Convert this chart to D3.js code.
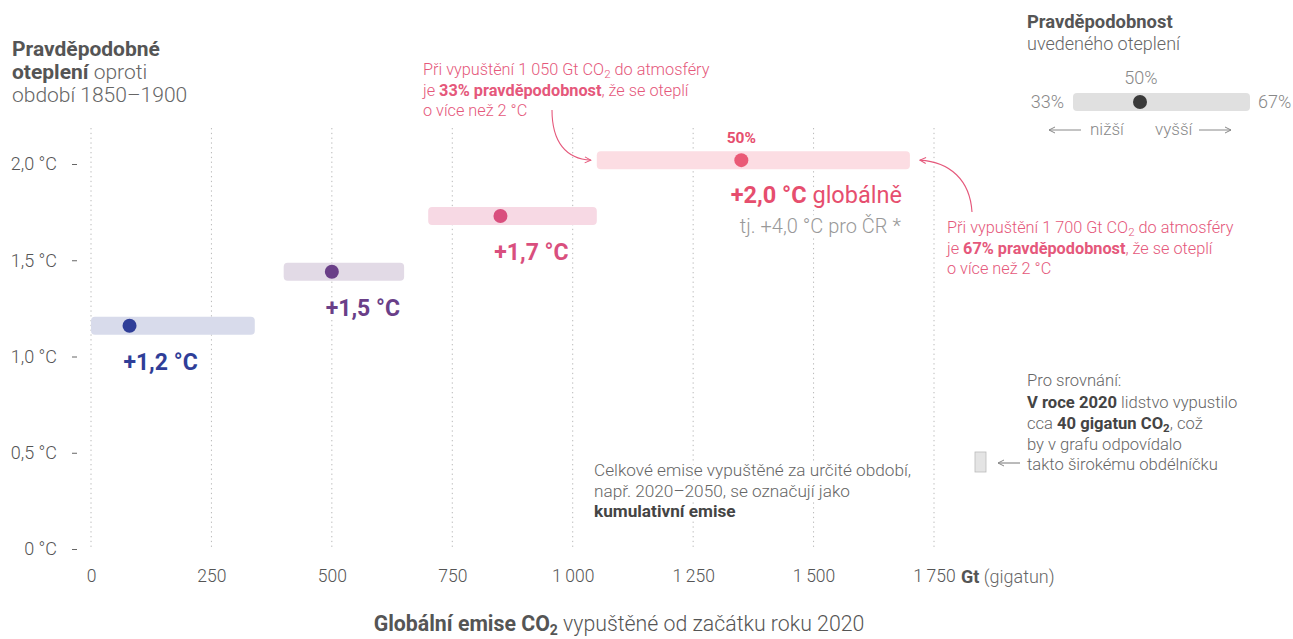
<!DOCTYPE html>
<html>
<head>
<meta charset="utf-8">
<script src="https://cdn.jsdelivr.net/npm/d3@7"></script>
<style>
  body { margin: 0; background: #fff; }
  svg { font-family: Roboto, "Noto Sans", sans-serif; font-weight: 300; }
  .halo { stroke: #fff; stroke-width: 7px; stroke-linejoin: round; paint-order: stroke; }
</style>
</head>
<body>
<script>
// data
const levels = ["+1,2 °C", "+1,5 °C", "+1,7 °C", "+2,0 °C"];
const warming = [1.16, 1.44, 1.73, 2.02];
const budgetLow = [0, 400, 700, 1050];   // 67 % bound
const budgetMid = [80, 500, 850, 1350];  // 50 %
const budgetHigh = [340, 650, 1050, 1700]; // 33 % bound
const xTicks = [0, 250, 500, 750, 1000, 1250, 1500, 1750];
const yTicks = [0, 0.5, 1, 1.5, 2];

const barFill = ["#d8dbeb", "#e2dae6", "#f7d9e4", "#fcdde3"];
const dotFill = ["#2f3e98", "#6a3f88", "#d94f7e", "#ea5a76"];
const pink = "#e5587b";

const width = 1293, height = 639;
const svg = d3.select("body").append("svg")
  .attr("width", width).attr("height", height);

const defs = svg.append("defs");
function head(id, col) {
  defs.append("marker")
    .attr("id", id).attr("viewBox", "0 0 8 8")
    .attr("refX", 7).attr("refY", 4)
    .attr("markerWidth", 8).attr("markerHeight", 8)
    .attr("markerUnits", "userSpaceOnUse")
    .attr("orient", "auto")
    .append("path").attr("d", "M1,1 L7,4 L1,7")
    .attr("fill", "none").attr("stroke", col).attr("stroke-width", 1);
}
head("head", pink);
head("headGray", "#888");

const x = d3.scaleLinear().domain([0, 1750]).range([91, 934]);
const y = d3.scaleLinear().domain([0, 2]).range([549, 164]);

const loc = d3.formatLocale({ decimal: ",", thousands: "\u2009", grouping: [3], currency: ["", ""] });
const fx = loc.format(",d");
const fy = v => v === 0 ? "0 °C" : loc.format(".1f")(v) + " °C";

// vertical dotted grid
svg.append("g").selectAll("line").data(xTicks).join("line")
  .attr("x1", d => x(d)).attr("x2", d => x(d))
  .attr("y1", 128).attr("y2", 550)
  .attr("stroke", "#b8b8b8").attr("stroke-dasharray", "1.3,3.5");

// y axis
const ya = svg.append("g").attr("transform", "translate(77,0)")
  .call(d3.axisLeft(y).tickValues(yTicks).tickFormat(fy).tickSize(5).tickPadding(15));
ya.select(".domain").remove();
ya.selectAll("line").attr("stroke", "#666");
ya.selectAll("text").attr("font-size", 18).attr("fill", "#555")
  .attr("font-family", "Roboto").attr("font-weight", 300);

// x axis
const xa = svg.append("g").attr("transform", "translate(0,562)")
  .call(d3.axisBottom(x).tickValues(xTicks).tickFormat(fx).tickSize(0).tickPadding(8));
xa.select(".domain").remove();
xa.selectAll("text").attr("font-size", 17.5).attr("fill", "#555")
  .attr("font-family", "Roboto").attr("font-weight", 300);

const unit = svg.append("text").attr("x", 961).attr("y", 583)
  .attr("font-size", 18).attr("fill", "#555");
unit.append("tspan").attr("font-weight", "bold").text("Gt");
unit.append("tspan").attr("fill", "#666").text(" (gigatun)");

// x title
const xt = svg.append("text").attr("x", 619).attr("y", 631)
  .attr("text-anchor", "middle").attr("font-size", 21.3).attr("fill", "#555");
xt.append("tspan").attr("font-weight", "bold").text("Globální emise CO");
xt.append("tspan").attr("font-weight", "bold").attr("font-size", 14).attr("dy", 4).text("2");
xt.append("tspan").attr("dy", -4).attr("fill", "#555").text(" vypuštěné od začátku roku 2020");

// y title
const yt = svg.append("g").attr("font-size", 21).attr("fill", "#666");
yt.append("text").attr("x", 12).attr("y", 56).attr("font-weight", "bold").attr("fill", "#555").text("Pravděpodobné");
const yt2 = yt.append("text").attr("x", 12).attr("y", 79);
yt2.append("tspan").attr("font-weight", "bold").attr("fill", "#555").text("oteplení");
yt2.append("tspan").text(" oproti");
yt.append("text").attr("x", 12).attr("y", 102).text("období 1850–1900");

// bars
const idx = d3.range(levels.length);
svg.append("g").selectAll("rect").data(idx).join("rect")
  .attr("x", i => x(budgetLow[i]))
  .attr("width", i => x(budgetHigh[i]) - x(budgetLow[i]))
  .attr("y", i => y(warming[i]) - 9).attr("height", 18)
  .attr("rx", 4).attr("fill", i => barFill[i]);

svg.append("g").selectAll("circle").data(idx).join("circle")
  .attr("cx", i => x(budgetMid[i])).attr("cy", i => y(warming[i]))
  .attr("r", 7).attr("fill", i => dotFill[i]);

// level labels
svg.append("g").selectAll("text").data(idx.slice(0, 3)).join("text")
  .attr("class", "halo")
  .attr("x", i => x(budgetMid[i]) + 31).attr("y", i => y(warming[i]) + 44)
  .attr("text-anchor", "middle").attr("font-size", 23).attr("font-weight", "bold")
  .attr("fill", i => dotFill[i]).text(i => levels[i]);

const l4 = svg.append("text").attr("class", "halo")
  .attr("x", x(budgetHigh[3]) - 8).attr("y", y(warming[3]) + 43)
  .attr("text-anchor", "end").attr("font-size", 23.5).attr("fill", "#e64e6e");
l4.append("tspan").attr("font-weight", "bold").text(levels[3]);
l4.append("tspan").attr("font-weight", 400).text(" globálně");
svg.append("text").attr("class", "halo")
  .attr("x", x(budgetHigh[3]) - 9).attr("y", y(warming[3]) + 73)
  .attr("text-anchor", "end").attr("font-size", 20).attr("fill", "#999")
  .text("tj. +4,0 °C pro ČR *");
svg.append("text").attr("x", x(budgetMid[3])).attr("y", y(warming[3]) - 17)
  .attr("text-anchor", "middle").attr("font-size", 15.5).attr("font-weight", "bold")
  .attr("fill", "#e64e6e").text("50%");

// pink annotations
function note(x0, y0, num, pct) {
  const g = svg.append("g").attr("font-size", 16.3).attr("fill", pink);
  const t1 = g.append("text").attr("x", x0).attr("y", y0);
  t1.append("tspan").text("Při vypuštění " + num + " Gt CO");
  t1.append("tspan").attr("font-size", 11.5).attr("dy", 3).text("2");
  t1.append("tspan").attr("dy", -3).text(" do atmosféry");
  const t2 = g.append("text").attr("x", x0).attr("y", y0 + 20.5);
  t2.append("tspan").text("je ");
  t2.append("tspan").attr("font-weight", "bold").text(pct + " pravděpodobnost");
  t2.append("tspan").text(", že se oteplí");
  g.append("text").attr("x", x0).attr("y", y0 + 41).text("o více než 2 °C");
}
note(423, 75, "1 050", "33%");
note(947, 233, "1 700", "67%");

svg.append("path")
  .attr("d", `M552,110 C552,142 566,159 ${x(budgetLow[3]) - 6},${y(warming[3])}`)
  .attr("fill", "none").attr("stroke", pink).attr("stroke-width", 1.1)
  .attr("marker-end", "url(#head)");
svg.append("path")
  .attr("d", `M972,212 C970,180 950,162 ${x(budgetHigh[3]) + 10},${y(warming[3])}`)
  .attr("fill", "none").attr("stroke", pink).attr("stroke-width", 1.1)
  .attr("marker-end", "url(#head)");

// cumulative note
const cn = svg.append("g").attr("font-size", 17.2).attr("fill", "#666").attr("class", "halo");
cn.append("text").attr("x", 594).attr("y", 476).text("Celkové emise vypuštěné za určité období,");
cn.append("text").attr("x", 594).attr("y", 497).text("např. 2020–2050, se označují jako");
cn.append("text").attr("x", 594).attr("y", 517).attr("font-weight", "bold").attr("fill", "#444").text("kumulativní emise");

// comparison note
const cmp = svg.append("g").attr("font-size", 16.6).attr("fill", "#666");
cmp.append("text").attr("x", 1027).attr("y", 386).text("Pro srovnání:");
const c2 = cmp.append("text").attr("x", 1027).attr("y", 408);
c2.append("tspan").attr("font-weight", "bold").attr("fill", "#444").text("V roce 2020");
c2.append("tspan").text(" lidstvo vypustilo");
const c3 = cmp.append("text").attr("x", 1027).attr("y", 429);
c3.append("tspan").text("cca ");
c3.append("tspan").attr("font-weight", "bold").attr("fill", "#444").text("40 gigatun CO");
c3.append("tspan").attr("font-weight", "bold").attr("fill", "#444").attr("font-size", 11.5).attr("dy", 3).text("2");
c3.append("tspan").attr("dy", -3).text(", což");
cmp.append("text").attr("x", 1027).attr("y", 450).text("by v grafu odpovídalo");
cmp.append("text").attr("x", 1027).attr("y", 470).text("takto širokému obdélníčku");
svg.append("line").attr("x1", 1020).attr("x2", 998).attr("y1", 463).attr("y2", 463)
  .attr("stroke", "#777").attr("stroke-width", 1).attr("marker-end", "url(#headGray)");
svg.append("rect").attr("x", 975).attr("y", 452).attr("width", 11).attr("height", 20)
  .attr("fill", "#e4e4e4").attr("stroke", "#bbb").attr("stroke-width", 0.8);

// probability legend
const lg = svg.append("g").attr("font-size", 18).attr("fill", "#888");
lg.append("text").attr("x", 1027).attr("y", 28).attr("font-weight", "bold").attr("fill", "#555").attr("font-size", 18.4).text("Pravděpodobnost");
lg.append("text").attr("x", 1027).attr("y", 50).attr("fill", "#666").text("uvedeného oteplení");
lg.append("rect").attr("x", 1073).attr("y", 93).attr("width", 177).attr("height", 18)
  .attr("rx", 4).attr("fill", "#e0e0e0");
lg.append("circle").attr("cx", 1140).attr("cy", 102).attr("r", 7).attr("fill", "#3a3a3a");
lg.append("text").attr("x", 1141).attr("y", 84).attr("text-anchor", "middle").text("50%");
lg.append("text").attr("x", 1064).attr("y", 108).attr("text-anchor", "end").text("33%");
lg.append("text").attr("x", 1258).attr("y", 108).text("67%");
lg.append("text").attr("x", 1090).attr("y", 135).attr("font-size", 17).text("nižší");
lg.append("text").attr("x", 1155).attr("y", 135).attr("font-size", 17).text("vyšší");
lg.append("line").attr("x1", 1081).attr("x2", 1049).attr("y1", 130).attr("y2", 130)
  .attr("stroke", "#888").attr("marker-end", "url(#headGray)");
lg.append("line").attr("x1", 1199).attr("x2", 1231).attr("y1", 130).attr("y2", 130)
  .attr("stroke", "#888").attr("marker-end", "url(#headGray)");
</script>
</body>
</html>
